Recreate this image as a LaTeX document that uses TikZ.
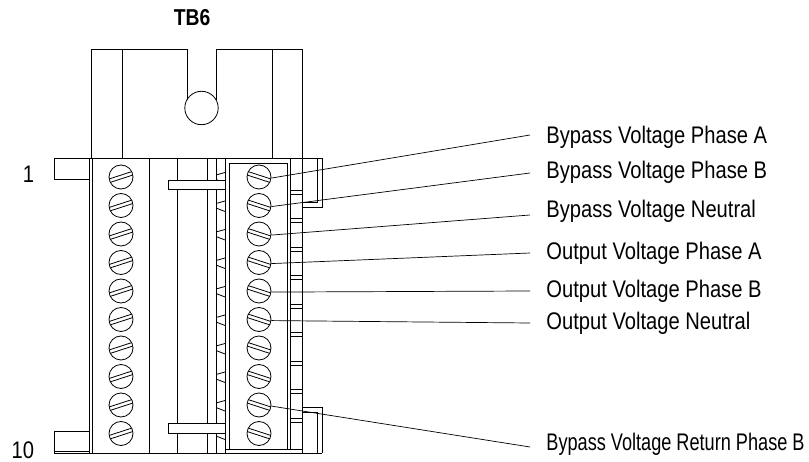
\documentclass[tikz,border=0pt]{standalone}
\usepackage{graphicx}
\usepackage{fontspec}
\setmainfont{Liberation Sans}[FakeStretch=0.84]
\begin{document}
\begin{tikzpicture}[x=1pt,y=-1pt,line width=0.8pt,
  screwL/.style={circle,draw,minimum size=24pt,inner sep=0pt,
    path picture={\draw
      ([shift={(13.71pt,6.35pt)}]path picture bounding box.center) --
      ([shift={(-14.83pt,-2.93pt)}]path picture bounding box.center)
      ([shift={(14.83pt,2.93pt)}]path picture bounding box.center) --
      ([shift={(-13.71pt,-6.35pt)}]path picture bounding box.center);}},
  screwR/.style={circle,draw,minimum size=24pt,inner sep=0pt,
    path picture={\draw
      ([shift={(-13.71pt,6.35pt)}]path picture bounding box.center) --
      ([shift={(14.83pt,-2.93pt)}]path picture bounding box.center)
      ([shift={(-14.83pt,2.93pt)}]path picture bounding box.center) --
      ([shift={(13.71pt,-6.35pt)}]path picture bounding box.center);}},
  lbl/.style={font=\fontsize{24}{28}\selectfont,inner sep=0pt},
  barbox/.style={draw,fill=white},
  leader/.style={line width=0.7pt}]
\useasboundingbox (0,0) rectangle (809,462);

% top block
\draw (91,158) -- (91,49) -- (187,49) -- (187,99.7);
\draw (216,99.7) -- (216,49) -- (302,49) -- (302,158);
\draw (122,49) -- (122,158) (272,49) -- (272,158);
\node[circle,draw,minimum size=33.4pt,inner sep=0pt] (hole) at (201.5,108) {};

% main body
\draw (54,158) -- (322,158);
\draw (54,453) -- (322,453);
\draw (89,158) -- (89,453) (92,158) -- (92,453);
\draw (149,158) -- (149,453) (177,158) -- (177,453)
      (207,158) -- (207,453) (216,158) -- (216,453)
      (225,158) -- (225,453) (302,158) -- (302,453);

% right module
\draw (225,449) -- (302,449);
\draw (229.5,449) -- (229.5,163) -- (287,163) -- (287,449);
\draw (290.5,158) -- (290.5,449);

% teeth and strip
\foreach \k in {1,...,10} {
  \pgfmathsetmacro\yy{177+28.5*(\k-1)}
  \draw (216,\yy-2) -- (225,\yy-4.5) (216,\yy+2.5) -- (225,\yy+6);
}
\foreach \k in {1,...,9} {
  \pgfmathsetmacro\yy{177+28.5*(\k-1)}
  \draw (290.5,\yy+13) -- (302,\yy+13) (290.5,\yy+17) -- (302,\yy+17);
}

% bars
\draw[barbox] (168,180) rectangle (225,189);
\draw[barbox] (168,423) rectangle (225,433);

% tabs
\draw (89,158) -- (54,158) -- (54,179) -- (89,179);
\draw (89,431) -- (54,431) -- (54,453);
\draw (54,451) -- (89,451);
\draw (302,158) -- (322,158) -- (322,207) -- (302,207);
\draw (317,158) -- (317,202) -- (302,202);
\draw (302,407) -- (322,407) -- (322,453);
\draw (302,412) -- (317,412) -- (317,453);

% screws
\foreach \k in {1,...,10} {
  \pgfmathsetmacro\yy{177+28.5*(\k-1)}
  \node[screwL] (sL\k) at (121,\yy) {};
  \node[screwR] (sR\k) at (259,\yy) {};
}

% labels
\node[lbl,font=\fontsize{23}{28}\selectfont\bfseries,anchor=base] (tb) at (192,26) {TB6};
\node[lbl,anchor=base east] (n1) at (34.5,183) {1};
\node[lbl,anchor=base east] (n10) at (34.5,458) {10};

\node[lbl,anchor=base west] (L1) at (546,144) {Bypass Voltage Phase A};
\node[lbl,anchor=base west] (L2) at (546,179) {Bypass Voltage Phase B};
\node[lbl,anchor=base west] (L3) at (546,218) {Bypass Voltage Neutral};
\node[lbl,anchor=base west] (L4) at (546,260) {Output Voltage Phase A};
\node[lbl,anchor=base west] (L5) at (546,298) {Output Voltage Phase B};
\node[lbl,anchor=base west] (L6) at (546,330) {Output Voltage Neutral};
\node[lbl,anchor=base west] (L9) at (546,450) {\scalebox{0.9}[1]{Bypass Voltage Return Phase B}};

\coordinate (e1) at (530,135);
\coordinate (e2) at (530,173);
\coordinate (e3) at (530,215);
\coordinate (e4) at (530,253);
\coordinate (e5) at (530,291);
\coordinate (e6) at (530,323);
\coordinate (e9) at (530,447);

\foreach \k in {1,2,3,4,5,6,9} {
  \draw[leader] (sR\k.-5) -- (e\k);
}
\end{tikzpicture}
\end{document}
